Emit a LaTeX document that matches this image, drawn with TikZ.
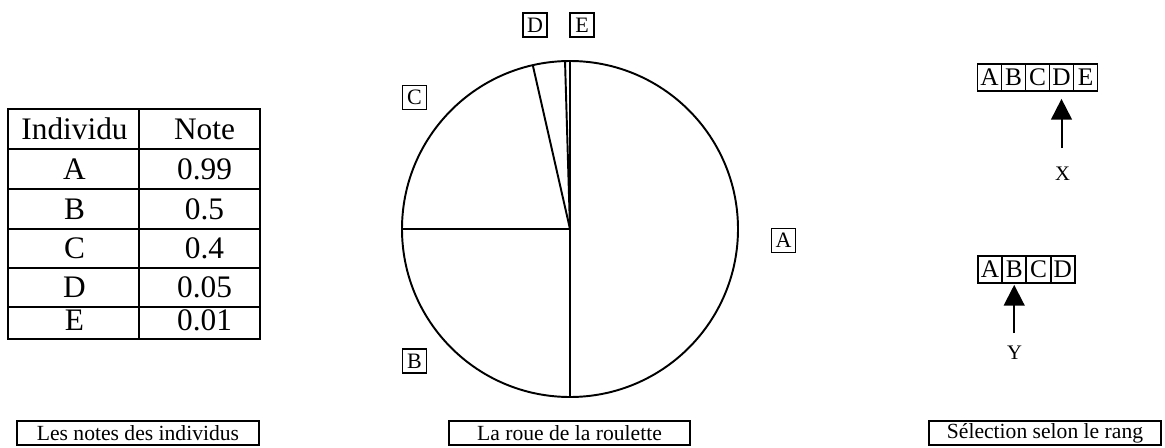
\documentclass[tikz,border=0pt]{standalone}
\usepackage{fontspec}
\setmainfont{Liberation Serif}
\usetikzlibrary{arrows.meta}
\begin{document}
\begin{tikzpicture}[x=0.75pt,y=-0.75pt, line width=1.45pt,
 lbl/.style={draw, inner sep=0pt, minimum width=18pt, minimum height=18pt, font=\fontsize{16.5}{18}\selectfont},
 cell/.style={draw, inner sep=0pt, minimum width=18pt, minimum height=20.6pt, font=\fontsize{19}{20}\selectfont},
 capbox/.style={draw, inner sep=0pt, minimum height=18.5pt, font=\fontsize{16.2}{18}\selectfont},
 tab/.style={font=\fontsize{23.5}{26}\selectfont, anchor=base, inner sep=0pt},
 ptrlbl/.style={font=\fontsize{15.5}{18}\selectfont, inner sep=0pt},
 ptr/.style={-{Triangle[width=15.5pt,length=15.5pt]}, line width=1.5pt}
]
\useasboundingbox (0,0) rectangle (1165,447);

% ---- table ----
\draw (8,109) rectangle (260,339);
\draw (139,109) -- (139,339);
\foreach \y in {149.3,189.3,229.3,268.3,306.7} \draw (8,\y) -- (260,\y);
\node[tab] (h1) at (74.5,139.3) {Individu};
\node[tab] (h2) at (204.5,139.3) {Note};
\node[tab] (r1a) at (74.5,179.3) {A};
\node[tab] (r1b) at (204.5,179.3) {0.99};
\node[tab] (r2a) at (74.5,219.3) {B};
\node[tab] (r2b) at (204.5,219.3) {0.5};
\node[tab] (r3a) at (74.5,258.5) {C};
\node[tab] (r3b) at (204.5,258.5) {0.4};
\node[tab] (r4a) at (74.5,297) {D};
\node[tab] (r4b) at (204.5,297) {0.05};
\node[tab] (r5a) at (74.5,330.5) {E};
\node[tab] (r5b) at (204.5,330.5) {0.01};

% ---- pie ----
\coordinate (O) at (570,229);
\draw (O) circle [radius=126pt];
\draw (O) -- ++(180:126pt);
\draw (O) -- ++(270:126pt);
\draw (O) -- ++(102.8:126pt);
\draw (O) -- ++(91.7:126pt);
\draw (O) -- ++(90:126pt);
\node[lbl] (lA) at (783.5,240.5) {A};
\node[lbl] (lB) at (414.5,361) {B};
\node[lbl] (lC) at (414.5,97.5) {C};
\node[lbl] (lD) at (535,25) {D};
\node[lbl] (lE) at (582,25) {E};

% ---- arrays ----
\node[cell] (xa) at (989.5,77.5) {A};
\node[cell] (xb) at (1013.5,77.5) {B};
\node[cell] (xc) at (1037.5,77.5) {C};
\node[cell] (xd) at (1061.5,77.5) {D};
\node[cell] (xe) at (1085.5,77.5) {E};
\path (xd.south) ++(0,56) coordinate (xs);
\draw[ptr, shorten >=5pt] (xs) -- (xd.south);
\node[ptrlbl] (xl) at (1062.5,174) {X};

\node[cell] (ya) at (989.9,269.5) {A};
\node[cell] (yb) at (1014.2,269.5) {B};
\node[cell] (yc) at (1038.5,269.5) {C};
\node[cell] (yd) at (1062.8,269.5) {D};
\path (yb.south) ++(0,49) coordinate (ys);
\draw[ptr, shorten >=0.5pt] (ys) -- (yb.south);
\node[ptrlbl] (yl) at (1014.5,353) {Y};

% ---- captions ----
\node[capbox, minimum width=181.5pt] (cap1) at (138,433) {Les notes des individus};
\node[capbox, minimum width=180.75pt] (cap2) at (569.5,433) {La roue de la roulette};
\node[capbox, minimum width=174pt] (cap3) at (1045,433) {Sélection selon le rang};
\end{tikzpicture}
\end{document}
